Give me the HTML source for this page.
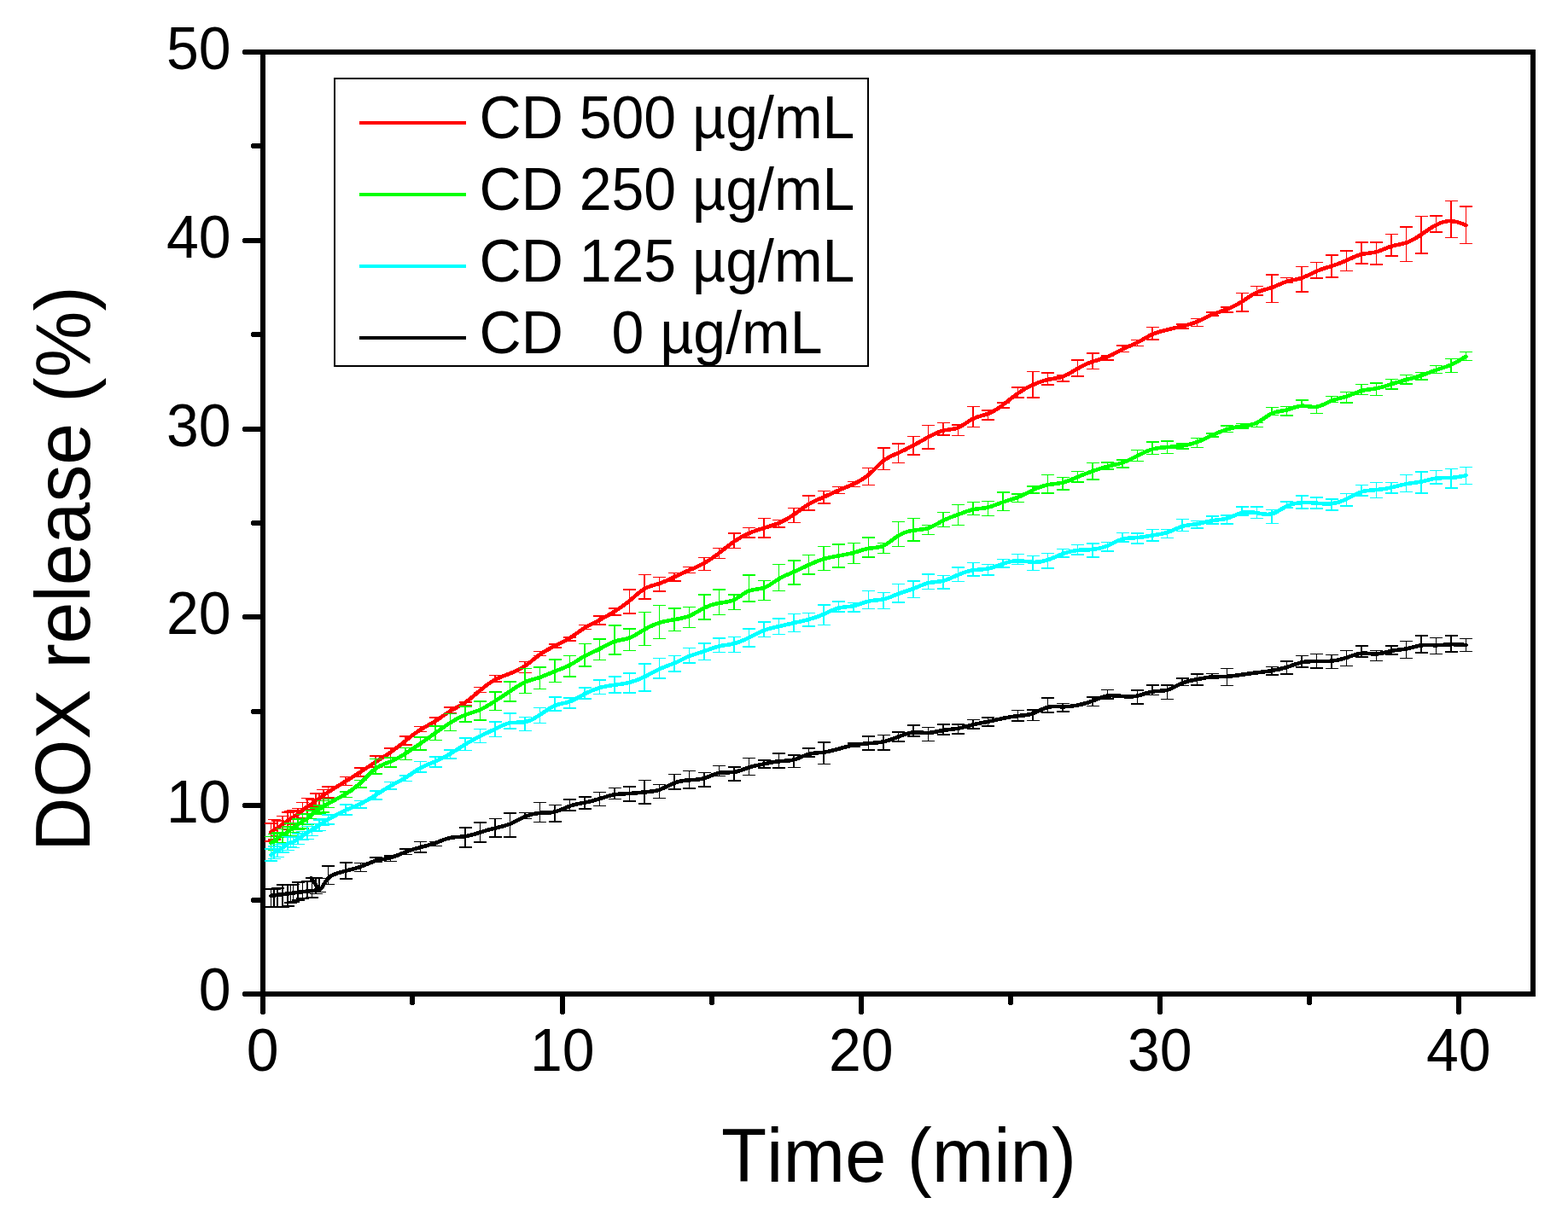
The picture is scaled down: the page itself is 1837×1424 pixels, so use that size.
<!DOCTYPE html>
<html lang="en"><head><meta charset="utf-8"><title>DOX release</title>
<style>html,body{margin:0;padding:0;background:#fff;width:1837px;height:1424px;overflow:hidden}svg{display:block}text{font-kerning:none;white-space:pre}</style>
</head><body>
<svg width="1837" height="1424" viewBox="0 0 1837 1424" font-family="'Liberation Sans', sans-serif" shape-rendering="crispEdges">
<rect width="1837" height="1424" fill="#fff"/>
<g fill="#000">
<rect x="305" y="58" width="1494" height="6"/>
<rect x="305" y="1162" width="1494" height="6"/>
<rect x="305" y="58" width="6" height="1110"/>
<rect x="1793" y="58" width="6" height="1110"/>
<rect x="305" y="1165" width="6" height="23"/><rect x="306" y="1188" width="4" height="1"/>
<rect x="480" y="1165" width="6" height="12"/><rect x="481" y="1177" width="4" height="1"/>
<rect x="656" y="1165" width="6" height="23"/><rect x="657" y="1188" width="4" height="1"/>
<rect x="831" y="1165" width="6" height="12"/><rect x="832" y="1177" width="4" height="1"/>
<rect x="1006" y="1165" width="6" height="23"/><rect x="1007" y="1188" width="4" height="1"/>
<rect x="1181" y="1165" width="6" height="12"/><rect x="1182" y="1177" width="4" height="1"/>
<rect x="1356" y="1165" width="6" height="23"/><rect x="1357" y="1188" width="4" height="1"/>
<rect x="1531" y="1165" width="6" height="12"/><rect x="1532" y="1177" width="4" height="1"/>
<rect x="1706" y="1165" width="6" height="23"/><rect x="1707" y="1188" width="4" height="1"/>
<rect x="285" y="1162" width="23" height="6"/><rect x="284" y="1163" width="1" height="4"/>
<rect x="295" y="1052" width="13" height="6"/><rect x="294" y="1053" width="1" height="4"/>
<rect x="285" y="941" width="23" height="6"/><rect x="284" y="942" width="1" height="4"/>
<rect x="295" y="831" width="13" height="6"/><rect x="294" y="832" width="1" height="4"/>
<rect x="285" y="720" width="23" height="6"/><rect x="284" y="721" width="1" height="4"/>
<rect x="295" y="610" width="13" height="6"/><rect x="294" y="611" width="1" height="4"/>
<rect x="285" y="500" width="23" height="6"/><rect x="284" y="501" width="1" height="4"/>
<rect x="295" y="389" width="13" height="6"/><rect x="294" y="390" width="1" height="4"/>
<rect x="285" y="279" width="23" height="6"/><rect x="284" y="280" width="1" height="4"/>
<rect x="295" y="168" width="13" height="6"/><rect x="294" y="169" width="1" height="4"/>
<rect x="285" y="58" width="23" height="6"/><rect x="284" y="59" width="1" height="4"/>
</g>
<g stroke="#ff0000" fill="none">
<path stroke-width="1.5" d="M317.5 965.1V985.9M310.1 965.1H325.1M310.1 985.9H325.1M321.0 960.6V983.8M313.6 960.6H328.6M313.6 983.8H328.6M325.0 961.9V979.9M317.6 961.9H332.6M317.6 979.9H332.6M331.0 956.6V975.4M323.6 956.6H338.6M323.6 975.4H338.6M337.0 951.8V972.6M329.6 951.8H344.6M329.6 972.6H344.6M340.5 951.2V965.6M333.1 951.2H348.1M333.1 965.6H348.1M343.5 949.4V966.6M336.1 949.4H351.1M336.1 966.6H351.1M349.0 947.4V960.6M341.6 947.4H356.6M341.6 960.6H356.6M354.5 940.3V958.5M347.1 940.3H362.1M347.1 958.5H362.1M360.0 935.3V954.7M352.6 935.3H367.6M352.6 954.7H367.6M365.5 937.0V948.4M358.1 937.0H373.1M358.1 948.4H373.1M370.0 930.0V945.0M362.6 930.0H377.6M362.6 945.0H377.6M374.2 930.1V943.3M366.8 930.1H381.8M366.8 943.3H381.8M378.8 925.3V938.3M371.4 925.3H386.4M371.4 938.3H386.4M384.4 922.0V935.0M377.0 922.0H392.0M377.0 935.0H392.0M405.0 910.7V920.5M397.6 910.7H412.6M397.6 920.5H412.6M422.5 899.9V909.9M415.1 899.9H430.1M415.1 909.9H430.1M440.0 886.2V899.2M432.6 886.2H447.6M432.6 899.2H447.6M457.5 877.2V887.8M450.1 877.2H465.1M450.1 887.8H465.1M475.0 863.2V873.2M467.6 863.2H482.6M467.6 873.2H482.6M492.5 851.3V857.3M485.1 851.3H500.1M485.1 857.3H500.1M510.0 841.1V851.1M502.6 841.1H517.6M502.6 851.1H517.6M527.5 828.8V835.8M520.1 828.8H535.1M520.1 835.8H535.1M545.0 822.9V826.9M537.6 822.9H552.6M537.6 826.9H552.6M562.5 805.6V811.6M555.1 805.6H570.1M555.1 811.6H570.1M580.0 791.6V799.2M572.6 791.6H587.6M572.6 799.2H587.6M615.0 775.7V788.3M607.6 775.7H622.6M607.6 788.3H622.6M632.5 763.5V768.5M625.1 763.5H640.1M625.1 768.5H640.1M650.0 755.0V759.0M642.6 755.0H657.6M642.6 759.0H657.6M667.5 746.8V750.8M660.1 746.8H675.1M660.1 750.8H675.1M685.0 732.4V737.4M677.6 732.4H692.6M677.6 737.4H692.6M702.5 721.8V732.0M695.1 721.8H710.1M695.1 732.0H710.1M720.0 712.9V721.1M712.6 712.9H727.6M712.6 721.1H727.6M737.5 691.1V719.1M730.1 691.1H745.1M730.1 719.1H745.1M755.0 673.6V701.8M747.6 673.6H762.6M747.6 701.8H762.6M772.5 676.6V693.0M765.1 676.6H780.1M765.1 693.0H780.1M790.0 671.6V681.0M782.6 671.6H797.6M782.6 681.0H797.6M807.5 664.7V671.3M800.1 664.7H815.1M800.1 671.3H815.1M825.0 653.7V668.3M817.6 653.7H832.6M817.6 668.3H832.6M842.5 642.6V654.4M835.1 642.6H850.1M835.1 654.4H850.1M860.0 625.0V642.6M852.6 625.0H867.6M852.6 642.6H867.6M877.5 618.6V630.2M870.1 618.6H885.1M870.1 630.2H885.1M895.0 607.5V629.9M887.6 607.5H902.6M887.6 629.9H902.6M912.5 609.7V617.9M905.1 609.7H920.1M905.1 617.9H920.1M930.0 595.3V612.7M922.6 595.3H937.6M922.6 612.7H937.6M947.5 581.0V598.2M940.1 581.0H955.1M940.1 598.2H955.1M965.0 575.7V590.1M957.6 575.7H972.6M957.6 590.1H972.6M982.5 570.4V578.4M975.1 570.4H990.1M975.1 578.4H990.1M1000.0 564.7V570.5M992.6 564.7H1007.6M992.6 570.5H1007.6M1017.5 548.4V568.4M1010.1 548.4H1025.1M1010.1 568.4H1025.1M1035.0 525.0V550.4M1027.6 525.0H1042.6M1027.6 550.4H1042.6M1052.5 519.8V542.6M1045.1 519.8H1060.1M1045.1 542.6H1060.1M1070.0 511.5V532.9M1062.6 511.5H1077.6M1062.6 532.9H1077.6M1087.5 498.5V525.9M1080.1 498.5H1095.1M1080.1 525.9H1095.1M1105.0 495.5V510.1M1097.6 495.5H1112.6M1097.6 510.1H1112.6M1122.5 497.8V510.4M1115.1 497.8H1130.1M1115.1 510.4H1130.1M1140.0 476.3V500.5M1132.6 476.3H1147.6M1132.6 500.5H1147.6M1157.5 481.0V492.0M1150.1 481.0H1165.1M1150.1 492.0H1165.1M1175.0 472.2V478.2M1167.6 472.2H1182.6M1167.6 478.2H1182.6M1192.5 453.9V466.1M1185.1 453.9H1200.1M1185.1 466.1H1200.1M1210.0 435.5V465.9M1202.6 435.5H1217.6M1202.6 465.9H1217.6M1227.5 436.8V451.2M1220.1 436.8H1235.1M1220.1 451.2H1235.1M1245.0 439.8V446.8M1237.6 439.8H1252.6M1237.6 446.8H1252.6M1262.5 422.0V440.8M1255.1 422.0H1270.1M1255.1 440.8H1270.1M1280.0 413.9V432.3M1272.6 413.9H1287.6M1272.6 432.3H1287.6M1297.5 416.8V421.8M1290.1 416.8H1305.1M1290.1 421.8H1305.1M1315.0 404.9V412.5M1307.6 404.9H1322.6M1307.6 412.5H1322.6M1332.5 398.7V405.7M1325.1 398.7H1340.1M1325.1 405.7H1340.1M1350.0 383.3V397.9M1342.6 383.3H1357.6M1342.6 397.9H1357.6M1385.0 379.9V384.9M1377.6 379.9H1392.6M1377.6 384.9H1392.6M1402.5 373.6V382.4M1395.1 373.6H1410.1M1395.1 382.4H1410.1M1420.0 365.8V369.8M1412.6 365.8H1427.6M1412.6 369.8H1427.6M1437.5 360.2V366.2M1430.1 360.2H1445.1M1430.1 366.2H1445.1M1455.0 343.7V364.9M1447.6 343.7H1462.6M1447.6 364.9H1462.6M1472.5 335.5V346.1M1465.1 335.5H1480.1M1465.1 346.1H1480.1M1490.0 322.1V354.3M1482.6 322.1H1497.6M1482.6 354.3H1497.6M1507.5 325.5V331.5M1500.1 325.5H1515.1M1500.1 331.5H1515.1M1525.0 312.7V342.1M1517.6 312.7H1532.6M1517.6 342.1H1532.6M1542.5 307.4V326.2M1535.1 307.4H1550.1M1535.1 326.2H1550.1M1560.0 299.2V325.2M1552.6 299.2H1567.6M1552.6 325.2H1567.6M1577.5 293.9V317.5M1570.1 293.9H1585.1M1570.1 317.5H1585.1M1595.0 283.8V309.0M1587.6 283.8H1602.6M1587.6 309.0H1602.6M1612.5 283.8V310.2M1605.1 283.8H1620.1M1605.1 310.2H1620.1M1630.0 274.5V299.9M1622.6 274.5H1637.6M1622.6 299.9H1637.6M1647.5 265.8V306.4M1640.1 265.8H1655.1M1640.1 306.4H1655.1M1665.0 253.5V297.1M1657.6 253.5H1672.6M1657.6 297.1H1672.6M1682.5 253.0V271.8M1675.1 253.0H1690.1M1675.1 271.8H1690.1M1700.0 235.4V278.6M1692.6 235.4H1707.6M1692.6 278.6H1707.6M1717.5 242.1V285.7M1710.1 242.1H1725.1M1710.1 285.7H1725.1"/>
<path stroke-width="4.6" stroke-linejoin="round" stroke-linecap="round" d="M317.50 975.50C317.50 975.50 317.50 975.50 318.08 974.95C318.67 974.40 319.83 973.30 321.08 972.53C322.33 971.77 323.67 971.33 325.33 970.30C327.00 969.27 329.00 967.63 331.00 966.18C333.00 964.73 335.00 963.47 336.58 962.20C338.17 960.93 339.33 959.67 340.42 958.97C341.50 958.27 342.50 958.13 343.92 957.40C345.33 956.67 347.17 955.33 349.00 953.90C350.83 952.47 352.67 950.93 354.50 949.43C356.33 947.93 358.17 946.47 360.00 945.35C361.83 944.23 363.67 943.47 365.33 942.22C367.00 940.97 368.50 939.23 369.95 938.23C371.40 937.23 372.80 936.97 374.27 936.02C375.73 935.07 377.27 933.43 378.97 932.07C380.67 930.70 382.53 929.60 386.90 926.90C391.27 924.20 398.13 919.90 404.48 915.97C410.83 912.03 416.67 908.47 422.50 904.65C428.33 900.83 434.17 896.77 440.00 893.03C445.83 889.30 451.67 885.90 457.50 881.82C463.33 877.73 469.17 872.97 475.00 868.27C480.83 863.57 486.67 858.93 492.50 855.25C498.33 851.57 504.17 848.83 510.00 845.17C515.83 841.50 521.67 836.90 527.50 833.37C533.33 829.83 539.17 827.37 545.00 823.42C550.83 819.47 556.67 814.03 562.50 809.12C568.33 804.20 574.17 799.80 580.00 796.65C585.83 793.50 591.67 791.60 597.50 789.37C603.33 787.13 609.17 784.57 615.00 780.62C620.83 776.67 626.67 771.33 632.50 767.17C638.33 763.00 644.17 760.00 650.00 757.13C655.83 754.27 661.67 751.53 667.50 747.85C673.33 744.17 679.17 739.53 685.00 735.88C690.83 732.23 696.67 729.57 702.50 726.58C708.33 723.60 714.17 720.30 720.00 716.67C725.83 713.03 731.67 709.07 737.50 704.18C743.33 699.30 749.17 693.50 755.00 690.12C760.83 686.73 766.67 685.77 772.50 683.87C778.33 681.97 784.17 679.13 790.00 676.33C795.83 673.53 801.67 670.77 807.50 668.22C813.33 665.67 819.17 663.33 825.00 660.08C830.83 656.83 836.67 652.67 842.50 648.13C848.33 643.60 854.17 638.70 860.00 634.68C865.83 630.67 871.67 627.53 877.50 625.02C883.33 622.50 889.17 620.60 895.00 618.83C900.83 617.07 906.67 615.43 912.50 612.98C918.33 610.53 924.17 607.27 930.00 603.23C935.83 599.20 941.67 594.40 947.50 590.88C953.33 587.37 959.17 585.13 965.00 582.60C970.83 580.07 976.67 577.23 982.50 574.68C988.33 572.13 994.17 569.87 1000.00 567.20C1005.83 564.53 1011.67 561.47 1017.50 556.48C1023.33 551.50 1029.17 544.60 1035.00 540.07C1040.83 535.53 1046.67 533.37 1052.50 530.78C1058.33 528.20 1064.17 525.20 1070.00 522.03C1075.83 518.87 1081.67 515.53 1087.50 512.30C1093.33 509.07 1099.17 505.93 1105.00 504.58C1110.83 503.23 1116.67 503.67 1122.50 501.27C1128.33 498.87 1134.17 493.63 1140.00 490.70C1145.83 487.77 1151.67 487.13 1157.50 484.93C1163.33 482.73 1169.17 478.97 1175.00 474.55C1180.83 470.13 1186.67 465.07 1192.50 460.98C1198.33 456.90 1204.17 453.80 1210.00 451.13C1215.83 448.47 1221.67 446.23 1227.50 445.00C1233.33 443.77 1239.17 443.53 1245.00 441.43C1250.83 439.33 1256.67 435.37 1262.50 432.00C1268.33 428.63 1274.17 425.87 1280.00 423.85C1285.83 421.83 1291.67 420.57 1297.50 418.17C1303.33 415.77 1309.17 412.23 1315.00 409.38C1320.83 406.53 1326.67 404.37 1332.50 401.35C1338.33 398.33 1344.17 394.47 1350.00 391.85C1355.83 389.23 1361.67 387.87 1367.50 386.50C1373.33 385.13 1379.17 383.77 1385.00 382.35C1390.83 380.93 1396.67 379.47 1402.50 377.03C1408.33 374.60 1414.17 371.20 1420.00 368.73C1425.83 366.27 1431.67 364.73 1437.50 362.48C1443.33 360.23 1449.17 357.27 1455.00 353.53C1460.83 349.80 1466.67 345.30 1472.50 342.62C1478.33 339.93 1484.17 339.07 1490.00 337.02C1495.83 334.97 1501.67 331.73 1507.50 329.93C1513.33 328.13 1519.17 327.77 1525.00 325.82C1530.83 323.87 1536.67 320.33 1542.50 317.80C1548.33 315.27 1554.17 313.73 1560.00 311.88C1565.83 310.03 1571.67 307.87 1577.50 305.23C1583.33 302.60 1589.17 299.50 1595.00 298.05C1600.83 296.60 1606.67 296.80 1612.50 295.27C1618.33 293.73 1624.17 290.47 1630.00 288.65C1635.83 286.83 1641.67 286.47 1647.50 284.48C1653.33 282.50 1659.17 278.90 1665.00 274.95C1670.83 271.00 1676.67 266.70 1682.50 263.65C1688.33 260.60 1694.17 258.80 1700.00 259.05C1705.83 259.30 1711.67 261.60 1714.58 262.75C1717.50 263.90 1717.50 263.90 1717.50 263.90"/>
</g>
<g stroke="#00ff00" fill="none">
<path stroke-width="1.5" d="M317.5 980.3V995.7M310.1 980.3H325.1M310.1 995.7H325.1M321.0 977.3V996.1M313.6 977.3H328.6M313.6 996.1H328.6M325.0 976.0V987.4M317.6 976.0H332.6M317.6 987.4H332.6M331.0 971.3V987.5M323.6 971.3H338.6M323.6 987.5H338.6M337.0 968.8V981.0M329.6 968.8H344.6M329.6 981.0H344.6M340.5 965.1V979.5M333.1 965.1H348.1M333.1 979.5H348.1M343.5 964.9V975.5M336.1 964.9H351.1M336.1 975.5H351.1M349.0 960.0V972.0M341.6 960.0H356.6M341.6 972.0H356.6M354.5 954.7V971.1M347.1 954.7H362.1M347.1 971.1H362.1M360.0 953.4V965.8M352.6 953.4H367.6M352.6 965.8H367.6M365.5 949.8V959.4M358.1 949.8H373.1M358.1 959.4H373.1M370.0 946.8V954.2M362.6 946.8H377.6M362.6 954.2H377.6M374.2 943.9V953.3M366.8 943.9H381.8M366.8 953.3H381.8M378.8 938.4V952.0M371.4 938.4H386.4M371.4 952.0H386.4M384.4 936.6V946.6M377.0 936.6H392.0M377.0 946.6H392.0M405.0 927.8V934.4M397.6 927.8H412.6M397.6 934.4H412.6M422.5 914.6V923.0M415.1 914.6H430.1M415.1 923.0H430.1M440.0 889.4V906.8M432.6 889.4H447.6M432.6 906.8H447.6M457.5 887.8V899.2M450.1 887.8H465.1M450.1 899.2H465.1M475.0 876.7V890.3M467.6 876.7H482.6M467.6 890.3H482.6M492.5 863.8V879.2M485.1 863.8H500.1M485.1 879.2H500.1M510.0 851.0V867.4M502.6 851.0H517.6M502.6 867.4H517.6M527.5 836.6V856.6M520.1 836.6H535.1M520.1 856.6H535.1M545.0 828.2V845.8M537.6 828.2H552.6M537.6 845.8H552.6M562.5 822.1V844.1M555.1 822.1H570.1M555.1 844.1H570.1M580.0 810.9V832.3M572.6 810.9H587.6M572.6 832.3H587.6M597.5 798.9V821.9M590.1 798.9H605.1M590.1 821.9H605.1M615.0 783.5V812.5M607.6 783.5H622.6M607.6 812.5H622.6M632.5 781.8V807.6M625.1 781.8H640.1M625.1 807.6H640.1M650.0 773.0V799.4M642.6 773.0H657.6M642.6 799.4H657.6M667.5 768.7V792.9M660.1 768.7H675.1M660.1 792.9H675.1M685.0 754.6V781.0M677.6 754.6H692.6M677.6 781.0H692.6M702.5 749.1V773.7M695.1 749.1H710.1M695.1 773.7H710.1M720.0 732.8V767.2M712.6 732.8H727.6M712.6 767.2H727.6M737.5 736.9V762.3M730.1 736.9H745.1M730.1 762.3H745.1M755.0 717.7V756.5M747.6 717.7H762.6M747.6 756.5H762.6M772.5 709.7V748.5M765.1 709.7H780.1M765.1 748.5H780.1M790.0 712.8V739.4M782.6 712.8H797.6M782.6 739.4H797.6M807.5 711.7V735.3M800.1 711.7H815.1M800.1 735.3H815.1M825.0 696.9V725.9M817.6 696.9H832.6M817.6 725.9H832.6M842.5 691.2V720.6M835.1 691.2H850.1M835.1 720.6H850.1M860.0 696.9V714.5M852.6 696.9H867.6M852.6 714.5H867.6M877.5 673.8V704.8M870.1 673.8H885.1M870.1 704.8H885.1M895.0 680.5V703.3M887.6 680.5H902.6M887.6 703.3H902.6M912.5 661.6V692.4M905.1 661.6H920.1M905.1 692.4H920.1M930.0 656.8V684.8M922.6 656.8H937.6M922.6 684.8H937.6M947.5 650.5V673.1M940.1 650.5H955.1M940.1 673.1H955.1M965.0 640.4V668.4M957.6 640.4H972.6M957.6 668.4H972.6M982.5 637.8V665.0M975.1 637.8H990.1M975.1 665.0H990.1M1000.0 636.6V660.4M992.6 636.6H1007.6M992.6 660.4H1007.6M1017.5 630.1V652.9M1010.1 630.1H1025.1M1010.1 652.9H1025.1M1035.0 636.5V648.5M1027.6 636.5H1042.6M1027.6 648.5H1042.6M1052.5 611.5V640.5M1045.1 611.5H1060.1M1045.1 640.5H1060.1M1070.0 607.5V633.9M1062.6 607.5H1077.6M1062.6 633.9H1077.6M1087.5 615.7V626.3M1080.1 615.7H1095.1M1080.1 626.3H1095.1M1105.0 600.3V617.7M1097.6 600.3H1112.6M1097.6 617.7H1112.6M1122.5 591.5V615.3M1115.1 591.5H1130.1M1115.1 615.3H1130.1M1140.0 588.5V603.5M1132.6 588.5H1147.6M1132.6 603.5H1147.6M1157.5 587.6V604.4M1150.1 587.6H1165.1M1150.1 604.4H1165.1M1175.0 577.2V598.4M1167.6 577.2H1182.6M1167.6 598.4H1182.6M1192.5 578.8V588.6M1185.1 578.8H1200.1M1185.1 588.6H1200.1M1210.0 569.8V578.0M1202.6 569.8H1217.6M1202.6 578.0H1217.6M1227.5 556.4V578.0M1220.1 556.4H1235.1M1220.1 578.0H1235.1M1245.0 559.6V574.2M1237.6 559.6H1252.6M1237.6 574.2H1252.6M1262.5 552.3V564.9M1255.1 552.3H1270.1M1255.1 564.9H1270.1M1280.0 542.5V562.1M1272.6 542.5H1287.6M1272.6 562.1H1287.6M1297.5 541.8V550.2M1290.1 541.8H1305.1M1290.1 550.2H1305.1M1315.0 538.8V548.2M1307.6 538.8H1322.6M1307.6 548.2H1322.6M1332.5 527.7V540.5M1325.1 527.7H1340.1M1325.1 540.5H1340.1M1350.0 517.8V532.6M1342.6 517.8H1357.6M1342.6 532.6H1357.6M1367.5 516.8V531.4M1360.1 516.8H1375.1M1360.1 531.4H1375.1M1385.0 520.0V526.0M1377.6 520.0H1392.6M1377.6 526.0H1392.6M1402.5 513.7V524.3M1395.1 513.7H1410.1M1395.1 524.3H1410.1M1420.0 507.8V511.8M1412.6 507.8H1427.6M1412.6 511.8H1427.6M1437.5 498.9V506.3M1430.1 498.9H1445.1M1430.1 506.3H1445.1M1455.0 496.5V501.9M1447.6 496.5H1462.6M1447.6 501.9H1462.6M1472.5 495.4V500.4M1465.1 495.4H1480.1M1465.1 500.4H1480.1M1490.0 477.5V486.5M1482.6 477.5H1497.6M1482.6 486.5H1497.6M1507.5 476.6V487.2M1500.1 476.6H1515.1M1500.1 487.2H1515.1M1525.0 468.8V477.4M1517.6 468.8H1532.6M1517.6 477.4H1532.6M1542.5 475.5V484.3M1535.1 475.5H1550.1M1535.1 484.3H1550.1M1560.0 464.7V471.7M1552.6 464.7H1567.6M1552.6 471.7H1567.6M1577.5 459.4V472.0M1570.1 459.4H1585.1M1570.1 472.0H1585.1M1595.0 450.7V462.7M1587.6 450.7H1602.6M1587.6 462.7H1602.6M1612.5 448.9V463.3M1605.1 448.9H1620.1M1605.1 463.3H1620.1M1630.0 444.5V455.9M1622.6 444.5H1637.6M1622.6 455.9H1637.6M1647.5 439.5V450.1M1640.1 439.5H1655.1M1640.1 450.1H1655.1M1665.0 436.6V444.8M1657.6 436.6H1672.6M1657.6 444.8H1672.6M1682.5 428.7V437.7M1675.1 428.7H1690.1M1675.1 437.7H1690.1M1700.0 420.7V436.3M1692.6 420.7H1707.6M1692.6 436.3H1707.6M1717.5 412.7V422.7M1710.1 412.7H1725.1M1710.1 422.7H1725.1"/>
<path stroke-width="4.6" stroke-linejoin="round" stroke-linecap="round" d="M317.50 988.00C317.50 988.00 317.50 988.00 318.08 987.78C318.67 987.57 319.83 987.13 321.08 986.08C322.33 985.03 323.67 983.37 325.33 982.15C327.00 980.93 329.00 980.17 331.00 979.03C333.00 977.90 335.00 976.40 336.58 975.22C338.17 974.03 339.33 973.17 340.42 972.38C341.50 971.60 342.50 970.90 343.92 969.85C345.33 968.80 347.17 967.40 349.00 966.18C350.83 964.97 352.67 963.93 354.50 962.87C356.33 961.80 358.17 960.70 360.00 959.32C361.83 957.93 363.67 956.27 365.33 954.75C367.00 953.23 368.50 951.87 369.95 950.87C371.40 949.87 372.80 949.23 374.27 948.35C375.73 947.47 377.27 946.33 378.97 945.17C380.67 944.00 382.53 942.80 386.90 940.45C391.27 938.10 398.13 934.60 404.48 930.80C410.83 927.00 416.67 922.90 422.50 917.40C428.33 911.90 434.17 905.00 440.00 900.78C445.83 896.57 451.67 895.03 457.50 892.60C463.33 890.17 469.17 886.83 475.00 883.17C480.83 879.50 486.67 875.50 492.50 871.45C498.33 867.40 504.17 863.30 510.00 859.15C515.83 855.00 521.67 850.80 527.50 847.10C533.33 843.40 539.17 840.20 545.00 837.95C550.83 835.70 556.67 834.40 562.50 831.83C568.33 829.27 574.17 825.43 580.00 821.65C585.83 817.87 591.67 814.13 597.50 810.20C603.33 806.27 609.17 802.13 615.00 799.52C620.83 796.90 626.67 795.80 632.50 793.83C638.33 791.87 644.17 789.03 650.00 786.72C655.83 784.40 661.67 782.60 667.50 779.53C673.33 776.47 679.17 772.13 685.00 768.90C690.83 765.67 696.67 763.53 702.50 760.57C708.33 757.60 714.17 753.80 720.00 751.83C725.83 749.87 731.67 749.73 737.50 747.58C743.33 745.43 749.17 741.27 755.00 737.85C760.83 734.43 766.67 731.77 772.50 729.93C778.33 728.10 784.17 727.10 790.00 726.17C795.83 725.23 801.67 724.37 807.50 721.92C813.33 719.47 819.17 715.43 825.00 712.50C830.83 709.57 836.67 707.73 842.50 706.78C848.33 705.83 854.17 705.77 860.00 703.00C865.83 700.23 871.67 694.77 877.50 692.47C883.33 690.17 889.17 691.03 895.00 688.98C900.83 686.93 906.67 681.97 912.50 678.45C918.33 674.93 924.17 672.87 930.00 670.33C935.83 667.80 941.67 664.80 947.50 662.07C953.33 659.33 959.17 656.87 965.00 655.13C970.83 653.40 976.67 652.40 982.50 651.42C988.33 650.43 994.17 649.47 1000.00 647.82C1005.83 646.17 1011.67 643.83 1017.50 642.83C1023.33 641.83 1029.17 642.17 1035.00 639.58C1040.83 637.00 1046.67 631.50 1052.50 627.87C1058.33 624.23 1064.17 622.47 1070.00 621.63C1075.83 620.80 1081.67 620.90 1087.50 618.95C1093.33 617.00 1099.17 613.00 1105.00 610.07C1110.83 607.13 1116.67 605.27 1122.50 603.10C1128.33 600.93 1134.17 598.47 1140.00 597.23C1145.83 596.00 1151.67 596.00 1157.50 594.63C1163.33 593.27 1169.17 590.53 1175.00 588.48C1180.83 586.43 1186.67 585.07 1192.50 582.75C1198.33 580.43 1204.17 577.17 1210.00 574.42C1215.83 571.67 1221.67 569.43 1227.50 568.27C1233.33 567.10 1239.17 567.00 1245.00 565.57C1250.83 564.13 1256.67 561.37 1262.50 558.93C1268.33 556.50 1274.17 554.40 1280.00 552.30C1285.83 550.20 1291.67 548.10 1297.50 546.63C1303.33 545.17 1309.17 544.33 1315.00 542.35C1320.83 540.37 1326.67 537.23 1332.50 534.18C1338.33 531.13 1344.17 528.17 1350.00 526.50C1355.83 524.83 1361.67 524.47 1367.50 524.10C1373.33 523.73 1379.17 523.37 1385.00 522.52C1390.83 521.67 1396.67 520.33 1402.50 518.13C1408.33 515.93 1414.17 512.87 1420.00 510.13C1425.83 507.40 1431.67 505.00 1437.50 503.23C1443.33 501.47 1449.17 500.33 1455.00 499.55C1460.83 498.77 1466.67 498.33 1472.50 495.47C1478.33 492.60 1484.17 487.30 1490.00 484.63C1495.83 481.97 1501.67 481.93 1507.50 480.45C1513.33 478.97 1519.17 476.03 1525.00 475.70C1530.83 475.37 1536.67 477.63 1542.50 476.82C1548.33 476.00 1554.17 472.10 1560.00 469.73C1565.83 467.37 1571.67 466.53 1577.50 464.62C1583.33 462.70 1589.17 459.70 1595.00 458.10C1600.83 456.50 1606.67 456.30 1612.50 455.22C1618.33 454.13 1624.17 452.17 1630.00 450.28C1635.83 448.40 1641.67 446.60 1647.50 445.02C1653.33 443.43 1659.17 442.07 1665.00 440.13C1670.83 438.20 1676.67 435.70 1682.50 433.67C1688.33 431.63 1694.17 430.07 1700.00 427.48C1705.83 424.90 1711.67 421.30 1714.58 419.50C1717.50 417.70 1717.50 417.70 1717.50 417.70"/>
</g>
<g stroke="#00ffff" fill="none">
<path stroke-width="1.5" d="M317.5 995.0V1009.0M310.1 995.0H325.1M310.1 1009.0H325.1M321.0 992.1V1006.3M313.6 992.1H328.6M313.6 1006.3H328.6M325.0 989.7V1004.3M317.6 989.7H332.6M317.6 1004.3H332.6M331.0 988.9V998.9M323.6 988.9H338.6M323.6 998.9H338.6M337.0 980.7V996.7M329.6 980.7H344.6M329.6 996.7H344.6M340.5 981.7V992.7M333.1 981.7H348.1M333.1 992.7H348.1M343.5 980.7V993.5M336.1 980.7H351.1M336.1 993.5H351.1M349.0 977.0V989.6M341.6 977.0H356.6M341.6 989.6H356.6M354.5 974.5V984.3M347.1 974.5H362.1M347.1 984.3H362.1M360.0 968.4V983.6M352.6 968.4H367.6M352.6 983.6H367.6M365.5 965.3V979.3M358.1 965.3H373.1M358.1 979.3H373.1M370.0 965.6V974.0M362.6 965.6H377.6M362.6 974.0H377.6M374.2 961.1V973.7M366.8 961.1H381.8M366.8 973.7H381.8M378.8 959.6V967.4M371.4 959.6H386.4M371.4 967.4H386.4M384.4 954.8V966.2M377.0 954.8H392.0M377.0 966.2H392.0M405.0 942.9V955.1M397.6 942.9H412.6M397.6 955.1H412.6M422.5 938.5V946.9M415.1 938.5H430.1M415.1 946.9H430.1M440.0 927.0V937.2M432.6 927.0H447.6M432.6 937.2H447.6M457.5 916.4V924.8M450.1 916.4H465.1M450.1 924.8H465.1M475.0 909.0V915.6M467.6 909.0H482.6M467.6 915.6H482.6M492.5 892.6V905.2M485.1 892.6H500.1M485.1 905.2H500.1M510.0 886.9V898.9M502.6 886.9H517.6M502.6 898.9H517.6M527.5 878.8V889.0M520.1 878.8H535.1M520.1 889.0H535.1M545.0 864.9V879.3M537.6 864.9H552.6M537.6 879.3H552.6M562.5 854.3V870.7M555.1 854.3H570.1M555.1 870.7H570.1M580.0 846.1V863.3M572.6 846.1H587.6M572.6 863.3H587.6M597.5 836.2V854.0M590.1 836.2H605.1M590.1 854.0H605.1M615.0 840.3V856.7M607.6 840.3H622.6M607.6 856.7H622.6M632.5 829.7V847.3M625.1 829.7H640.1M625.1 847.3H640.1M650.0 817.0V832.8M642.6 817.0H657.6M642.6 832.8H657.6M667.5 818.2V830.0M660.1 818.2H675.1M660.1 830.0H675.1M685.0 806.0V819.0M677.6 806.0H692.6M677.6 819.0H692.6M702.5 796.9V813.7M695.1 796.9H710.1M695.1 813.7H710.1M720.0 793.2V812.2M712.6 793.2H727.6M712.6 812.2H727.6M737.5 789.1V812.1M730.1 789.1H745.1M730.1 812.1H745.1M755.0 777.9V809.9M747.6 777.9H762.6M747.6 809.9H762.6M772.5 771.6V795.2M765.1 771.6H780.1M765.1 795.2H780.1M790.0 768.7V787.1M782.6 768.7H797.6M782.6 787.1H797.6M807.5 759.7V776.9M800.1 759.7H815.1M800.1 776.9H815.1M825.0 753.9V773.7M817.6 753.9H832.6M817.6 773.7H832.6M842.5 748.0V764.6M835.1 748.0H850.1M835.1 764.6H850.1M860.0 746.7V764.3M852.6 746.7H867.6M852.6 764.3H867.6M877.5 737.0V758.0M870.1 737.0H885.1M870.1 758.0H885.1M895.0 729.0V746.6M887.6 729.0H902.6M887.6 746.6H902.6M912.5 725.1V743.3M905.1 725.1H920.1M905.1 743.3H920.1M930.0 719.6V740.6M922.6 719.6H937.6M922.6 740.6H937.6M947.5 718.7V733.9M940.1 718.7H955.1M940.1 733.9H955.1M965.0 708.9V732.3M957.6 708.9H972.6M957.6 732.3H972.6M982.5 704.8V716.8M975.1 704.8H990.1M975.1 716.8H990.1M1000.0 706.5V717.1M992.6 706.5H1007.6M992.6 717.1H1007.6M1017.5 692.6V713.4M1010.1 692.6H1025.1M1010.1 713.4H1025.1M1035.0 694.6V713.4M1027.6 694.6H1042.6M1027.6 713.4H1042.6M1052.5 684.5V706.1M1045.1 684.5H1060.1M1045.1 706.1H1060.1M1070.0 680.8V700.4M1062.6 680.8H1077.6M1062.6 700.4H1077.6M1087.5 673.0V690.4M1080.1 673.0H1095.1M1080.1 690.4H1095.1M1105.0 674.6V690.2M1097.6 674.6H1112.6M1097.6 690.2H1112.6M1122.5 664.9V681.3M1115.1 664.9H1130.1M1115.1 681.3H1130.1M1140.0 659.5V675.1M1132.6 659.5H1147.6M1132.6 675.1H1147.6M1157.5 661.6V674.0M1150.1 661.6H1165.1M1150.1 674.0H1165.1M1175.0 655.6V665.0M1167.6 655.6H1182.6M1167.6 665.0H1182.6M1192.5 649.7V661.7M1185.1 649.7H1200.1M1185.1 661.7H1200.1M1210.0 651.3V668.7M1202.6 651.3H1217.6M1202.6 668.7H1217.6M1227.5 648.6V666.2M1220.1 648.6H1235.1M1220.1 666.2H1235.1M1245.0 643.6V652.8M1237.6 643.6H1252.6M1237.6 652.8H1252.6M1262.5 638.4V649.8M1255.1 638.4H1270.1M1255.1 649.8H1270.1M1280.0 636.8V652.8M1272.6 636.8H1287.6M1272.6 652.8H1287.6M1297.5 635.7V646.1M1290.1 635.7H1305.1M1290.1 646.1H1305.1M1315.0 624.5V635.1M1307.6 624.5H1322.6M1307.6 635.1H1322.6M1332.5 624.8V637.0M1325.1 624.8H1340.1M1325.1 637.0H1340.1M1350.0 620.4V633.8M1342.6 620.4H1357.6M1342.6 633.8H1357.6M1367.5 620.5V630.3M1360.1 620.5H1375.1M1360.1 630.3H1375.1M1385.0 608.5V622.3M1377.6 608.5H1392.6M1377.6 622.3H1392.6M1402.5 610.6V619.2M1395.1 610.6H1410.1M1395.1 619.2H1410.1M1420.0 604.8V614.0M1412.6 604.8H1427.6M1412.6 614.0H1427.6M1437.5 604.0V614.2M1430.1 604.0H1445.1M1430.1 614.2H1445.1M1455.0 594.2V604.2M1447.6 594.2H1462.6M1447.6 604.2H1462.6M1472.5 593.9V607.3M1465.1 593.9H1480.1M1465.1 607.3H1480.1M1490.0 597.3V613.7M1482.6 597.3H1497.6M1482.6 613.7H1497.6M1507.5 588.0V595.0M1500.1 588.0H1515.1M1500.1 595.0H1515.1M1525.0 580.8V596.2M1517.6 580.8H1532.6M1517.6 596.2H1532.6M1542.5 582.8V596.2M1535.1 582.8H1550.1M1535.1 596.2H1550.1M1560.0 585.0V598.0M1552.6 585.0H1567.6M1552.6 598.0H1567.6M1577.5 578.7V592.9M1570.1 578.7H1585.1M1570.1 592.9H1585.1M1595.0 568.6V580.8M1587.6 568.6H1602.6M1587.6 580.8H1602.6M1612.5 565.7V583.3M1605.1 565.7H1620.1M1605.1 583.3H1620.1M1630.0 565.6V578.2M1622.6 565.6H1637.6M1622.6 578.2H1637.6M1647.5 556.6V576.6M1640.1 556.6H1655.1M1640.1 576.6H1655.1M1665.0 552.8V577.8M1657.6 552.8H1672.6M1657.6 577.8H1672.6M1682.5 551.4V567.2M1675.1 551.4H1690.1M1675.1 567.2H1690.1M1700.0 549.6V572.2M1692.6 549.6H1707.6M1692.6 572.2H1707.6M1717.5 547.3V567.3M1710.1 547.3H1725.1M1710.1 567.3H1725.1"/>
<path stroke-width="4.6" stroke-linejoin="round" stroke-linecap="round" d="M317.50 1002.00C317.50 1002.00 317.50 1002.00 318.08 1001.53C318.67 1001.07 319.83 1000.13 321.08 999.30C322.33 998.47 323.67 997.73 325.33 996.85C327.00 995.97 329.00 994.93 331.00 993.55C333.00 992.17 335.00 990.43 336.58 989.32C338.17 988.20 339.33 987.70 340.42 987.43C341.50 987.17 342.50 987.13 343.92 986.48C345.33 985.83 347.17 984.57 349.00 983.28C350.83 982.00 352.67 980.70 354.50 979.48C356.33 978.27 358.17 977.13 360.00 975.95C361.83 974.77 363.67 973.53 365.33 972.50C367.00 971.47 368.50 970.63 369.95 969.82C371.40 969.00 372.80 968.20 374.27 967.15C375.73 966.10 377.27 964.80 378.97 963.65C380.67 962.50 382.53 961.50 386.90 959.08C391.27 956.67 398.13 952.83 404.48 949.87C410.83 946.90 416.67 944.80 422.50 941.98C428.33 939.17 434.17 935.63 440.00 931.95C445.83 928.27 451.67 924.43 457.50 921.13C463.33 917.83 469.17 915.07 475.00 911.45C480.83 907.83 486.67 903.37 492.50 900.13C498.33 896.90 504.17 894.90 510.00 892.40C515.83 889.90 521.67 886.90 527.50 883.43C533.33 879.97 539.17 876.03 545.00 872.47C550.83 868.90 556.67 865.70 562.50 862.80C568.33 859.90 574.17 857.30 580.00 854.40C585.83 851.50 591.67 848.30 597.50 847.27C603.33 846.23 609.17 847.37 615.00 846.27C620.83 845.17 626.67 841.83 632.50 837.90C638.33 833.97 644.17 829.43 650.00 827.03C655.83 824.63 661.67 824.37 667.50 822.30C673.33 820.23 679.17 816.37 685.00 813.23C690.83 810.10 696.67 807.70 702.50 806.07C708.33 804.43 714.17 803.57 720.00 802.78C725.83 802.00 731.67 801.30 737.50 799.83C743.33 798.37 749.17 796.13 755.00 793.27C760.83 790.40 766.67 786.90 772.50 784.23C778.33 781.57 784.17 779.73 790.00 777.22C795.83 774.70 801.67 771.50 807.50 769.15C813.33 766.80 819.17 765.30 825.00 763.30C830.83 761.30 836.67 758.80 842.50 757.42C848.33 756.03 854.17 755.77 860.00 754.30C865.83 752.83 871.67 750.17 877.50 747.22C883.33 744.27 889.17 741.03 895.00 738.82C900.83 736.60 906.67 735.40 912.50 734.12C918.33 732.83 924.17 731.47 930.00 730.15C935.83 728.83 941.67 727.57 947.50 725.98C953.33 724.40 959.17 722.50 965.00 719.92C970.83 717.33 976.67 714.07 982.50 712.60C988.33 711.13 994.17 711.47 1000.00 710.17C1005.83 708.87 1011.67 705.93 1017.50 704.63C1023.33 703.33 1029.17 703.67 1035.00 702.38C1040.83 701.10 1046.67 698.20 1052.50 695.97C1058.33 693.73 1064.17 692.17 1070.00 689.90C1075.83 687.63 1081.67 684.67 1087.50 683.30C1093.33 681.93 1099.17 682.17 1105.00 680.73C1110.83 679.30 1116.67 676.20 1122.50 673.68C1128.33 671.17 1134.17 669.23 1140.00 668.35C1145.83 667.47 1151.67 667.63 1157.50 666.47C1163.33 665.30 1169.17 662.80 1175.00 660.78C1180.83 658.77 1186.67 657.23 1192.50 657.18C1198.33 657.13 1204.17 658.57 1210.00 658.85C1215.83 659.13 1221.67 658.27 1227.50 656.30C1233.33 654.33 1239.17 651.27 1245.00 649.05C1250.83 646.83 1256.67 645.47 1262.50 644.90C1268.33 644.33 1274.17 644.57 1280.00 644.03C1285.83 643.50 1291.67 642.20 1297.50 639.70C1303.33 637.20 1309.17 633.50 1315.00 631.83C1320.83 630.17 1326.67 630.53 1332.50 630.08C1338.33 629.63 1344.17 628.37 1350.00 627.45C1355.83 626.53 1361.67 625.97 1367.50 624.02C1373.33 622.07 1379.17 618.73 1385.00 616.98C1390.83 615.23 1396.67 615.07 1402.50 614.07C1408.33 613.07 1414.17 611.23 1420.00 610.27C1425.83 609.30 1431.67 609.20 1437.50 607.50C1443.33 605.80 1449.17 602.50 1455.00 601.08C1460.83 599.67 1466.67 600.13 1472.50 601.18C1478.33 602.23 1484.17 603.87 1490.00 602.35C1495.83 600.83 1501.67 596.17 1507.50 593.33C1513.33 590.50 1519.17 589.50 1525.00 589.17C1530.83 588.83 1536.67 589.17 1542.50 589.67C1548.33 590.17 1554.17 590.83 1560.00 590.22C1565.83 589.60 1571.67 587.70 1577.50 584.90C1583.33 582.10 1589.17 578.40 1595.00 576.52C1600.83 574.63 1606.67 574.57 1612.50 574.10C1618.33 573.63 1624.17 572.77 1630.00 571.45C1635.83 570.13 1641.67 568.37 1647.50 567.27C1653.33 566.17 1659.17 565.73 1665.00 564.52C1670.83 563.30 1676.67 561.30 1682.50 560.57C1688.33 559.83 1694.17 560.37 1700.00 560.03C1705.83 559.70 1711.67 558.50 1714.58 557.90C1717.50 557.30 1717.50 557.30 1717.50 557.30"/>
</g>
<g stroke="#000000" fill="none">
<path stroke-width="1.5" d="M317.5 1042.0V1063.0M310.1 1042.0H325.1M310.1 1063.0H325.1M321.0 1042.0V1062.5M313.6 1042.0H328.6M313.6 1062.5H328.6M325.0 1041.0V1063.0M317.6 1041.0H332.6M317.6 1063.0H332.6M331.0 1037.0V1063.0M323.6 1037.0H338.6M323.6 1063.0H338.6M337.0 1037.0V1062.0M329.6 1037.0H344.6M329.6 1062.0H344.6M340.5 1037.0V1058.0M333.1 1037.0H348.1M333.1 1058.0H348.1M343.5 1036.5V1057.0M336.1 1036.5H351.1M336.1 1057.0H351.1M349.0 1034.0V1055.0M341.6 1034.0H356.6M341.6 1055.0H356.6M354.5 1033.5V1053.0M347.1 1033.5H362.1M347.1 1053.0H362.1M360.0 1033.0V1052.5M352.6 1033.0H367.6M352.6 1052.5H367.6M365.5 1029.0V1052.0M358.1 1029.0H373.1M358.1 1052.0H373.1M370.0 1029.0V1047.5M362.6 1029.0H377.6M362.6 1047.5H377.6M374.2 1029.5V1045.5M366.8 1029.5H381.8M366.8 1045.5H381.8M384.4 1015.1V1036.3M377.0 1015.1H392.0M377.0 1036.3H392.0M405.0 1011.2V1030.2M397.6 1011.2H412.6M397.6 1030.2H412.6M422.5 1011.7V1021.5M415.1 1011.7H430.1M415.1 1021.5H430.1M440.0 1005.1V1010.1M432.6 1005.1H447.6M432.6 1010.1H447.6M457.5 1003.1V1009.7M450.1 1003.1H465.1M450.1 1009.7H465.1M475.0 994.8V1001.4M467.6 994.8H482.6M467.6 1001.4H482.6M492.5 986.7V999.1M485.1 986.7H500.1M485.1 999.1H500.1M510.0 986.3V991.3M502.6 986.3H517.6M502.6 991.3H517.6M545.0 970.1V992.9M537.6 970.1H552.6M537.6 992.9H552.6M562.5 964.0V986.8M555.1 964.0H570.1M555.1 986.8H570.1M580.0 959.5V980.9M572.6 959.5H587.6M572.6 980.9H587.6M597.5 952.9V980.9M590.1 952.9H605.1M590.1 980.9H605.1M615.0 952.7V959.3M607.6 952.7H622.6M607.6 959.3H622.6M632.5 940.5V963.3M625.1 940.5H640.1M625.1 963.3H640.1M650.0 943.6V963.2M642.6 943.6H657.6M642.6 963.2H657.6M667.5 937.1V949.9M660.1 937.1H675.1M660.1 949.9H675.1M685.0 933.8V948.2M677.6 933.8H692.6M677.6 948.2H692.6M702.5 928.6V944.4M695.1 928.6H710.1M695.1 944.4H710.1M720.0 923.7V936.7M712.6 923.7H727.6M712.6 936.7H727.6M737.5 922.0V938.8M730.1 922.0H745.1M730.1 938.8H745.1M755.0 914.7V941.9M747.6 914.7H762.6M747.6 941.9H762.6M772.5 919.3V935.3M765.1 919.3H780.1M765.1 935.3H780.1M790.0 907.6V924.8M782.6 907.6H797.6M782.6 924.8H797.6M807.5 903.6V924.2M800.1 903.6H815.1M800.1 924.2H815.1M825.0 905.7V922.1M817.6 905.7H832.6M817.6 922.1H832.6M842.5 897.6V909.4M835.1 897.6H850.1M835.1 909.4H850.1M860.0 898.9V914.9M852.6 898.9H867.6M852.6 914.9H867.6M877.5 888.7V908.3M870.1 888.7H885.1M870.1 908.3H885.1M895.0 891.0V900.2M887.6 891.0H902.6M887.6 900.2H902.6M912.5 882.8V900.2M905.1 882.8H920.1M905.1 900.2H920.1M930.0 884.9V899.5M922.6 884.9H937.6M922.6 899.5H937.6M947.5 877.2V887.0M940.1 877.2H955.1M940.1 887.0H955.1M965.0 869.8V895.4M957.6 869.8H972.6M957.6 895.4H972.6M1000.0 870.8V874.8M992.6 870.8H1007.6M992.6 874.8H1007.6M1017.5 863.2V879.0M1010.1 863.2H1025.1M1010.1 879.0H1025.1M1035.0 861.6V879.0M1027.6 861.6H1042.6M1027.6 879.0H1042.6M1052.5 858.0V869.0M1045.1 858.0H1060.1M1045.1 869.0H1060.1M1070.0 850.2V863.0M1062.6 850.2H1077.6M1062.6 863.0H1077.6M1087.5 852.6V868.4M1080.1 852.6H1095.1M1080.1 868.4H1095.1M1105.0 849.1V861.1M1097.6 849.1H1112.6M1097.6 861.1H1112.6M1122.5 849.0V860.2M1115.1 849.0H1130.1M1115.1 860.2H1130.1M1140.0 843.6V854.2M1132.6 843.6H1147.6M1132.6 854.2H1147.6M1157.5 840.8V851.2M1150.1 840.8H1165.1M1150.1 851.2H1165.1M1192.5 832.6V844.8M1185.1 832.6H1200.1M1185.1 844.8H1200.1M1210.0 831.8V844.4M1202.6 831.8H1217.6M1202.6 844.4H1217.6M1227.5 817.9V835.1M1220.1 817.9H1235.1M1220.1 835.1H1235.1M1245.0 824.4V833.8M1237.6 824.4H1252.6M1237.6 833.8H1252.6M1280.0 816.8V827.4M1272.6 816.8H1287.6M1272.6 827.4H1287.6M1297.5 808.6V818.8M1290.1 808.6H1305.1M1290.1 818.8H1305.1M1332.5 809.0V825.0M1325.1 809.0H1340.1M1325.1 825.0H1340.1M1350.0 802.9V814.7M1342.6 802.9H1357.6M1342.6 814.7H1357.6M1367.5 802.9V819.3M1360.1 802.9H1375.1M1360.1 819.3H1375.1M1385.0 795.1V803.3M1377.6 795.1H1392.6M1377.6 803.3H1392.6M1402.5 789.9V802.9M1395.1 789.9H1410.1M1395.1 802.9H1410.1M1420.0 789.4V795.6M1412.6 789.4H1427.6M1412.6 795.6H1427.6M1437.5 783.4V803.4M1430.1 783.4H1445.1M1430.1 803.4H1445.1M1490.0 781.7V791.1M1482.6 781.7H1497.6M1482.6 791.1H1497.6M1507.5 774.8V790.2M1500.1 774.8H1515.1M1500.1 790.2H1515.1M1525.0 768.5V782.1M1517.6 768.5H1532.6M1517.6 782.1H1532.6M1542.5 766.6V783.0M1535.1 766.6H1550.1M1535.1 783.0H1550.1M1560.0 767.7V783.3M1552.6 767.7H1567.6M1552.6 783.3H1567.6M1577.5 762.5V780.5M1570.1 762.5H1585.1M1570.1 780.5H1585.1M1595.0 756.8V770.2M1587.6 756.8H1602.6M1587.6 770.2H1602.6M1612.5 762.5V774.3M1605.1 762.5H1620.1M1605.1 774.3H1620.1M1630.0 756.8V767.0M1622.6 756.8H1637.6M1622.6 767.0H1637.6M1647.5 751.4V771.4M1640.1 751.4H1655.1M1640.1 771.4H1655.1M1665.0 744.9V764.9M1657.6 744.9H1672.6M1657.6 764.9H1672.6M1682.5 747.6V766.4M1675.1 747.6H1690.1M1675.1 766.4H1690.1M1700.0 745.0V764.2M1692.6 745.0H1707.6M1692.6 764.2H1707.6M1717.5 748.7V763.3M1710.1 748.7H1725.1M1710.1 763.3H1725.1"/>
<path stroke-width="4.6" stroke-linejoin="round" stroke-linecap="round" d="M317.50 1049.60C317.50 1049.60 317.50 1049.60 318.08 1049.57C318.67 1049.53 319.83 1049.47 321.08 1049.37C322.33 1049.27 323.67 1049.13 325.33 1048.95C327.00 1048.77 329.00 1048.53 331.00 1048.27C333.00 1048.00 335.00 1047.70 336.58 1047.48C338.17 1047.27 339.33 1047.13 340.42 1047.00C341.50 1046.87 342.50 1046.73 343.92 1046.53C345.33 1046.33 347.17 1046.07 349.00 1045.83C350.83 1045.60 352.67 1045.40 354.50 1045.20C356.33 1045.00 358.17 1044.80 360.00 1044.60C361.83 1044.40 363.67 1044.20 365.33 1044.03C367.00 1043.87 368.50 1043.73 369.95 1043.63C371.40 1043.53 372.80 1043.47 374.05 1043.03C375.30 1042.60 376.40 1041.80 378.10 1038.85C379.80 1035.90 382.10 1030.80 386.68 1027.42C391.27 1024.03 398.13 1022.37 404.48 1020.85C410.83 1019.33 416.67 1017.97 422.50 1015.78C428.33 1013.60 434.17 1010.60 440.00 1008.90C445.83 1007.20 451.67 1006.80 457.50 1005.22C463.33 1003.63 469.17 1000.87 475.00 998.62C480.83 996.37 486.67 994.63 492.50 993.08C498.33 991.53 504.17 990.17 510.00 988.07C515.83 985.97 521.67 983.13 527.50 981.92C533.33 980.70 539.17 981.10 545.00 980.28C550.83 979.47 556.67 977.43 562.50 975.55C568.33 973.67 574.17 971.93 580.00 970.52C585.83 969.10 591.67 968.00 597.50 965.63C603.33 963.27 609.17 959.63 615.00 957.13C620.83 954.63 626.67 953.27 632.50 952.83C638.33 952.40 644.17 952.90 650.00 951.50C655.83 950.10 661.67 946.80 667.50 944.73C673.33 942.67 679.17 941.83 685.00 940.67C690.83 939.50 696.67 938.00 702.50 936.20C708.33 934.40 714.17 932.30 720.00 931.28C725.83 930.27 731.67 930.33 737.50 930.02C743.33 929.70 749.17 929.00 755.00 928.48C760.83 927.97 766.67 927.63 772.50 925.62C778.33 923.60 784.17 919.90 790.00 917.67C795.83 915.43 801.67 914.67 807.50 914.28C813.33 913.90 819.17 913.90 825.00 912.17C830.83 910.43 836.67 906.97 842.50 905.80C848.33 904.63 854.17 905.77 860.00 904.93C865.83 904.10 871.67 901.30 877.50 899.42C883.33 897.53 889.17 896.57 895.00 895.40C900.83 894.23 906.67 892.87 912.50 892.30C918.33 891.73 924.17 891.97 930.00 890.40C935.83 888.83 941.67 885.47 947.50 883.87C953.33 882.27 959.17 882.43 965.00 881.70C970.83 880.97 976.67 879.33 982.50 877.70C988.33 876.07 994.17 874.43 1000.00 873.33C1005.83 872.23 1011.67 871.67 1017.50 871.25C1023.33 870.83 1029.17 870.57 1035.00 869.30C1040.83 868.03 1046.67 865.77 1052.50 863.48C1058.33 861.20 1064.17 858.90 1070.00 858.40C1075.83 857.90 1081.67 859.20 1087.50 858.95C1093.33 858.70 1099.17 856.90 1105.00 855.92C1110.83 854.93 1116.67 854.77 1122.50 853.73C1128.33 852.70 1134.17 850.80 1140.00 849.37C1145.83 847.93 1151.67 846.97 1157.50 845.77C1163.33 844.57 1169.17 843.13 1175.00 841.92C1180.83 840.70 1186.67 839.70 1192.50 839.10C1198.33 838.50 1204.17 838.30 1210.00 836.27C1215.83 834.23 1221.67 830.37 1227.50 828.87C1233.33 827.37 1239.17 828.23 1245.00 828.32C1250.83 828.40 1256.67 827.70 1262.50 826.53C1268.33 825.37 1274.17 823.73 1280.00 821.52C1285.83 819.30 1291.67 816.50 1297.50 815.55C1303.33 814.60 1309.17 815.50 1315.00 816.05C1320.83 816.60 1326.67 816.80 1332.50 815.53C1338.33 814.27 1344.17 811.53 1350.00 810.55C1355.83 809.57 1361.67 810.33 1367.50 808.73C1373.33 807.13 1379.17 803.17 1385.00 800.72C1390.83 798.27 1396.67 797.33 1402.50 796.22C1408.33 795.10 1414.17 793.80 1420.00 793.30C1425.83 792.80 1431.67 793.10 1437.50 792.80C1443.33 792.50 1449.17 791.60 1455.00 790.73C1460.83 789.87 1466.67 789.03 1472.50 788.32C1478.33 787.60 1484.17 787.00 1490.00 786.05C1495.83 785.10 1501.67 783.80 1507.50 781.95C1513.33 780.10 1519.17 777.70 1525.00 776.42C1530.83 775.13 1536.67 774.97 1542.50 775.00C1548.33 775.03 1554.17 775.27 1560.00 774.72C1565.83 774.17 1571.67 772.83 1577.50 770.83C1583.33 768.83 1589.17 766.17 1595.00 765.65C1600.83 765.13 1606.67 766.77 1612.50 766.50C1618.33 766.23 1624.17 764.07 1630.00 762.90C1635.83 761.73 1641.67 761.57 1647.50 760.40C1653.33 759.23 1659.17 757.07 1665.00 756.33C1670.83 755.60 1676.67 756.30 1682.50 756.25C1688.33 756.20 1694.17 755.40 1700.00 755.23C1705.83 755.07 1711.67 755.53 1714.58 755.77C1717.50 756.00 1717.50 756.00 1717.50 756.00"/>
<path stroke-width="4.6" stroke-linecap="round" d="M364.5 1029.0 L374.2 1043.0"/>
</g>
<g font-size="68.0" fill="#000">
<text transform="translate(270.6 1184.3) scale(1 1.041)" text-anchor="end" xml:space="preserve">0</text>
<text transform="translate(270.6 964.3) scale(1 1.041)" text-anchor="end" xml:space="preserve">10</text>
<text transform="translate(270.6 743.3) scale(1 1.041)" text-anchor="end" xml:space="preserve">20</text>
<text transform="translate(270.6 523.3) scale(1 1.041)" text-anchor="end" xml:space="preserve">30</text>
<text transform="translate(270.6 302.3) scale(1 1.041)" text-anchor="end" xml:space="preserve">40</text>
<text transform="translate(270.6 81.3) scale(1 1.041)" text-anchor="end" xml:space="preserve">50</text>
<text transform="translate(307.7 1254.8) scale(1 1.041)" text-anchor="middle" xml:space="preserve">0</text>
<text transform="translate(658.7 1254.8) scale(1 1.041)" text-anchor="middle" xml:space="preserve">10</text>
<text transform="translate(1008.7 1254.8) scale(1 1.041)" text-anchor="middle" xml:space="preserve">20</text>
<text transform="translate(1358.7 1254.8) scale(1 1.041)" text-anchor="middle" xml:space="preserve">30</text>
<text transform="translate(1708.7 1254.8) scale(1 1.041)" text-anchor="middle" xml:space="preserve">40</text>
</g>
<g font-size="87.1" fill="#000">
<text transform="translate(844.9 1384.8) scale(1 1.02)" text-anchor="start" xml:space="preserve">Time (min)</text>
</g>
<g font-size="87.7" fill="#000">
<text transform="translate(104.9 998.0) rotate(-90) scale(1 1.03)" text-anchor="start" xml:space="preserve">DOX release (%)</text>
</g>
<rect x="392" y="92" width="625" height="337" fill="#fff" stroke="#000" stroke-width="2"/>
<g font-size="68.0" fill="#000">
<line x1="423" y1="144" x2="544" y2="144" stroke="#ff0000" stroke-width="4.2" stroke-linecap="round"/>
<text transform="translate(561.6 161.9) scale(1 1.035)" text-anchor="start" xml:space="preserve">CD 500 µg/mL</text>
<line x1="423" y1="228" x2="544" y2="228" stroke="#00ff00" stroke-width="4.2" stroke-linecap="round"/>
<text transform="translate(561.6 245.9) scale(1 1.035)" text-anchor="start" xml:space="preserve">CD 250 µg/mL</text>
<line x1="423" y1="312" x2="544" y2="312" stroke="#00ffff" stroke-width="4.2" stroke-linecap="round"/>
<text transform="translate(561.6 329.9) scale(1 1.035)" text-anchor="start" xml:space="preserve">CD 125 µg/mL</text>
<line x1="423" y1="396" x2="544" y2="396" stroke="#000000" stroke-width="4.2" stroke-linecap="round"/>
<text transform="translate(561.6 413.9) scale(1 1.035)" text-anchor="start" xml:space="preserve">CD   0 µg/mL</text>
</g>
</svg>
</body></html>
